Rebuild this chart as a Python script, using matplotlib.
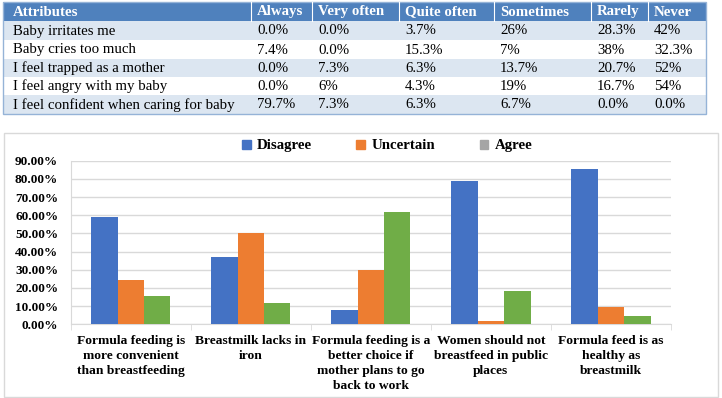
import matplotlib.pyplot as plt
from matplotlib.patches import Rectangle, Patch
from matplotlib.ticker import FuncFormatter, FixedLocator
import numpy as np

# table data
tbl_header = ['Attributes', 'Always', 'Very often', 'Quite often', 'Sometimes', 'Rarely', 'Never']
tbl_rows = ['Baby irritates me', 'Baby cries too much', 'I feel trapped as a mother',
            'I feel angry with my baby', 'I feel confident when caring for baby']
always = ['0.0%', '7.4%', '0.0%', '0.0%', '79.7%']
very_often = ['0.0%', '0.0%', '7.3%', '6%', '7.3%']
quite_often = ['3.7%', '15.3%', '6.3%', '4.3%', '6.3%']
sometimes = ['26%', '7%', '13.7%', '19%', '6.7%']
rarely = ['28.3%', '38%', '20.7%', '16.7%', '0.0%']
never = ['42%', '32.3%', '52%', '54%', '0.0%']

# chart data
categories = ['Formula feeding is\nmore convenient\nthan breastfeeding',
              'Breastmilk lacks in\niron',
              'Formula feeding is a\nbetter choice if\nmother plans to go\nback to work',
              'Women should not\nbreastfeed in public\nplaces',
              'Formula feed is as\nhealthy as\nbreastmilk']
disagree = [59.0, 37.0, 7.7, 78.6, 85.4]
uncertain = [24.4, 50.4, 29.9, 2.0, 9.5]
agree = [15.8, 11.7, 62.0, 18.5, 4.4]

plt.rcParams['font.family'] = 'Liberation Serif'

W, H = 722, 398
fig = plt.figure(figsize=(W / 100, H / 100), dpi=100)

# ---- table, drawn in pixel coords ----
tab = fig.add_axes([0, 0, 1, 1])
tab.set_xlim(0, W)
tab.set_ylim(H, 0)
tab.axis('off')

col_edges = [3, 251, 312, 399, 494, 591, 648, 706]
row_edges = [2, 21, 40, 59, 77, 95, 114]
cols = [tbl_rows, always, very_often, quite_often, sometimes, rarely, never]

for r in range(6):
    y0, y1 = row_edges[r], row_edges[r + 1]
    if r == 0:
        fc = '#4F81BD'
    elif r % 2 == 1:
        fc = '#DCE6F1'
    else:
        fc = 'white'
    tab.add_patch(Rectangle((col_edges[0], y0), col_edges[-1] - col_edges[0], y1 - y0,
                            facecolor=fc, edgecolor='none'))
    for c in range(7):
        x = col_edges[c] + (10 if c == 0 else 6)
        if r == 0:
            tab.text(x, (y0 + y1) / 2 + 0.5, tbl_header[c], color='white', fontsize=10.7,
                     fontweight='bold', va='center', ha='left')
        else:
            tab.text(x, (y0 + y1) / 2 + 0.5, cols[c][r - 1], color='black', fontsize=10.7,
                     va='center', ha='left')
# header separators
for xe in col_edges[1:-1]:
    tab.plot([xe, xe], [row_edges[0], row_edges[1]], color='white', lw=0.8)
tab.add_patch(Rectangle((col_edges[0], row_edges[0]), col_edges[-1] - col_edges[0],
                        row_edges[-1] - row_edges[0], facecolor='none',
                        edgecolor='#95B3D7', lw=1))

# chart frame
tab.add_patch(Rectangle((4, 133), 714, 264, facecolor='none', edgecolor='#D9D9D9', lw=1))

# ---- bar chart ----
ax = fig.add_axes([70.7 / W, 73.7 / H, 600.3 / W, 163.6 / H])
x = np.arange(len(categories))
w = 0.22
ax.bar(x - w, disagree, w, color='#4472C4', zorder=3)
ax.bar(x, uncertain, w, color='#ED7D31', zorder=3)
ax.bar(x + w, agree, w, color='#70AD47', zorder=3)

ax.set_xlim(-0.5, 4.5)
ax.set_ylim(0, 90)
ax.set_yticks(np.arange(0, 91, 10))
ax.yaxis.set_major_formatter(FuncFormatter(lambda v, p: '%.2f%%' % v))
ax.grid(axis='y', color='#D9D9D9', lw=1, zorder=0)
ax.set_xticks(x)
ax.set_xticklabels(categories, fontsize=9.7, fontweight='bold', linespacing=1.3)
ax.xaxis.set_minor_locator(FixedLocator(np.arange(-0.5, 5, 1)))
ax.tick_params(axis='x', which='major', length=0, pad=8)
ax.tick_params(axis='x', which='minor', length=4, color='#D9D9D9')
ax.tick_params(axis='y', length=0, pad=9)
for lab in ax.get_yticklabels():
    lab.set_fontsize(9.5)
    lab.set_fontweight('bold')
for s in ['top', 'right']:
    ax.spines[s].set_visible(False)
ax.spines['left'].set_color('#D9D9D9')
ax.spines['bottom'].set_color('#D9D9D9')

handles = [Patch(color='#4472C4'), Patch(color='#ED7D31'), Patch(color='#A5A5A5')]
fig.legend(handles, ['Disagree', 'Uncertain', 'Agree'], loc='center',
           bbox_to_anchor=(387 / W, 1 - 146 / H), ncol=3, frameon=False,
           prop={'weight': 'bold', 'size': 10.7}, handlelength=0.6, handleheight=0.6,
           handletextpad=0.4, columnspacing=3.0)

fig.savefig('out.png', dpi=100)
